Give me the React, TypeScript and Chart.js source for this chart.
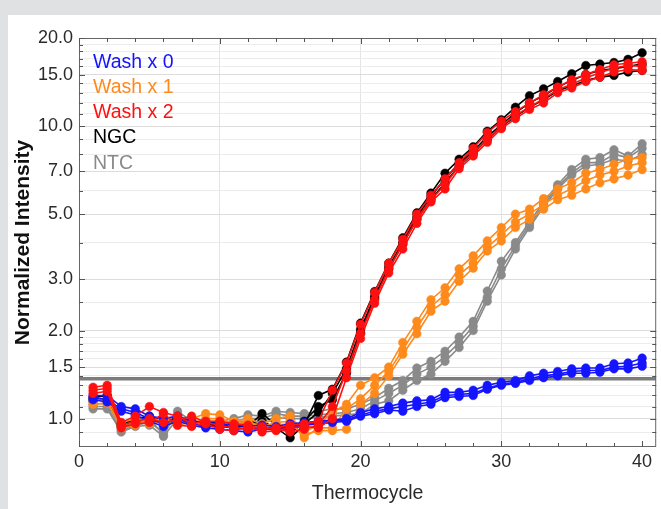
import React, { useEffect, useRef } from "react";
import { Chart, registerables } from "chart.js";
Chart.register(...registerables);

const CYCLES = [1, 2, 3, 4, 5, 6, 7, 8, 9, 10, 11, 12, 13, 14, 15, 16, 17, 18, 19, 20, 21, 22, 23, 24, 25, 26, 27, 28, 29, 30, 31, 32, 33, 34, 35, 36, 37, 38, 39, 40];
const THRESHOLD = 1.37;

const SERIES_NAMES = ["Wash x 0", "Wash x 1", "Wash x 2", "NGC", "NTC"];
const SERIES_COLORS = ["#1414ff", "#ff8a1c", "#ff1010", "#000000", "#8a8a8a"];

const WASH0_A = [1.20, 1.20, 1.10, 1.08, 1.02, 1.00, 1.02, 0.98, 0.97, 0.96, 0.95, 0.94, 0.95, 0.94, 0.96, 0.97, 0.98, 0.99, 1.00, 1.05, 1.08, 1.10, 1.13, 1.15, 1.16, 1.23, 1.23, 1.25, 1.30, 1.33, 1.35, 1.40, 1.43, 1.45, 1.48, 1.49, 1.49, 1.54, 1.55, 1.61];
const WASH0_B = [1.18, 1.16, 1.08, 1.05, 1.00, 0.96, 1.00, 0.96, 0.94, 0.94, 0.93, 0.92, 0.93, 0.93, 0.94, 0.96, 0.97, 0.98, 0.99, 1.03, 1.06, 1.08, 1.10, 1.12, 1.14, 1.20, 1.21, 1.22, 1.27, 1.31, 1.33, 1.37, 1.40, 1.42, 1.45, 1.46, 1.46, 1.50, 1.51, 1.55];
const WASH0_C = [1.16, 1.14, 1.06, 1.03, 0.98, 0.94, 0.98, 0.95, 0.93, 0.92, 0.91, 0.90, 0.92, 0.92, 0.93, 0.95, 0.96, 0.97, 0.98, 1.02, 1.04, 1.07, 1.06, 1.10, 1.12, 1.18, 1.19, 1.20, 1.26, 1.30, 1.32, 1.35, 1.38, 1.40, 1.43, 1.43, 1.44, 1.48, 1.48, 1.51];

const WASH1_A = [1.15, 1.17, 0.97, 1.00, 0.98, 1.00, 0.97, 1.00, 1.04, 1.03, 0.98, 1.00, 0.96, 1.00, 1.02, 0.90, 0.95, 1.05, 1.12, 1.30, 1.38, 1.50, 1.82, 2.15, 2.55, 2.80, 3.25, 3.60, 4.05, 4.50, 5.00, 5.20, 5.65, 6.10, 6.40, 6.90, 7.10, 7.40, 7.70, 7.80];
const WASH1_B = [1.12, 1.13, 0.95, 0.97, 0.96, 0.98, 0.95, 0.97, 1.00, 1.00, 0.96, 0.97, 0.94, 0.97, 0.98, 0.86, 0.93, 0.93, 1.08, 1.17, 1.30, 1.45, 1.72, 2.05, 2.42, 2.65, 3.10, 3.40, 3.85, 4.25, 4.70, 5.00, 5.40, 5.80, 6.10, 6.50, 6.80, 7.00, 7.30, 7.50];
const WASH1_C = [1.18, 1.15, 0.93, 0.95, 1.00, 0.96, 0.99, 0.95, 0.98, 0.98, 0.94, 0.99, 0.92, 0.95, 0.96, 0.88, 0.91, 0.91, 0.92, 1.12, 1.22, 1.40, 1.66, 1.95, 2.33, 2.52, 2.95, 3.27, 3.74, 4.05, 4.50, 4.80, 5.20, 5.60, 5.80, 6.10, 6.40, 6.60, 6.80, 7.10];

const WASH2_A = [1.28, 1.30, 0.97, 1.02, 1.10, 1.05, 1.02, 0.96, 0.98, 0.98, 0.96, 0.95, 0.92, 0.93, 0.95, 0.96, 0.98, 1.25, 1.55, 2.10, 2.70, 3.40, 4.10, 5.00, 5.80, 6.60, 7.50, 8.40, 9.50, 10.4, 11.2, 12.0, 12.8, 13.6, 14.4, 15.0, 15.6, 16.2, 16.4, 16.6];
const WASH2_B = [1.25, 1.27, 0.95, 0.98, 1.00, 0.97, 0.99, 1.02, 0.97, 0.95, 0.93, 0.92, 0.94, 0.92, 0.90, 0.92, 0.95, 1.10, 1.45, 1.95, 2.55, 3.25, 3.95, 4.80, 5.60, 6.30, 7.30, 8.10, 9.00, 10.0, 10.9, 11.6, 12.4, 13.3, 13.9, 14.6, 15.2, 15.8, 16.1, 16.0];
const WASH2_C = [1.22, 1.24, 0.93, 0.96, 0.97, 1.04, 0.95, 0.94, 0.96, 0.92, 0.91, 0.94, 0.90, 0.91, 0.93, 0.94, 0.93, 1.00, 1.38, 1.88, 2.48, 3.15, 3.80, 4.65, 5.50, 6.10, 7.15, 7.90, 8.80, 9.80, 10.6, 11.4, 12.0, 13.0, 13.5, 14.2, 14.7, 15.3, 15.6, 15.5];

const NGC_A = [1.18, 1.20, 0.95, 1.00, 1.02, 0.98, 1.00, 0.97, 0.96, 0.97, 0.95, 0.96, 0.98, 0.93, 0.86, 0.95, 1.20, 1.26, 1.56, 2.12, 2.72, 3.40, 4.15, 5.05, 5.90, 6.90, 7.70, 8.50, 9.60, 10.5, 11.6, 12.7, 13.4, 14.2, 15.1, 16.1, 16.3, 16.5, 16.9, 17.8];
const NGC_B = [1.15, 1.17, 0.94, 0.98, 1.00, 0.96, 0.98, 0.99, 0.95, 0.95, 0.97, 0.94, 1.04, 0.95, 0.90, 0.96, 1.05, 1.22, 1.48, 2.02, 2.62, 3.30, 4.00, 4.90, 5.75, 6.60, 7.45, 8.20, 9.20, 10.1, 11.1, 12.0, 12.7, 13.6, 14.3, 15.0, 15.5, 15.7, 16.0, 16.3];
const NGC_C = [1.17, 1.16, 0.96, 0.99, 0.98, 0.97, 1.01, 0.96, 0.97, 0.96, 0.93, 0.95, 0.96, 0.94, 0.93, 0.98, 1.10, 1.16, 1.43, 1.96, 2.58, 3.25, 3.95, 4.80, 5.60, 6.40, 7.30, 8.05, 9.00, 9.95, 10.8, 11.6, 12.3, 13.2, 13.7, 14.3, 14.7, 14.9, 15.3, 15.5];

const NTC_A = [1.12, 1.13, 0.93, 0.97, 1.00, 0.88, 1.06, 0.98, 0.96, 0.98, 1.00, 1.03, 1.02, 1.06, 1.05, 1.04, 1.06, 1.08, 1.08, 1.12, 1.18, 1.27, 1.35, 1.49, 1.57, 1.70, 1.90, 2.15, 2.73, 3.45, 4.00, 4.70, 5.50, 6.30, 7.10, 7.70, 7.80, 8.30, 7.90, 8.70];
const NTC_B = [1.10, 1.10, 0.91, 0.95, 0.97, 0.90, 1.03, 0.96, 0.98, 0.96, 0.98, 1.00, 1.00, 1.04, 1.02, 1.02, 1.03, 1.04, 1.05, 1.08, 1.15, 1.22, 1.30, 1.42, 1.50, 1.63, 1.82, 2.07, 2.60, 3.25, 3.90, 4.60, 5.40, 6.20, 6.90, 7.50, 7.50, 8.00, 7.80, 8.40];
const NTC_C = [1.08, 1.08, 0.90, 0.94, 0.95, 0.87, 1.00, 0.95, 0.95, 0.95, 0.97, 0.98, 0.98, 1.01, 1.00, 1.00, 1.01, 1.02, 1.03, 1.04, 1.12, 1.15, 1.25, 1.35, 1.42, 1.57, 1.75, 2.00, 2.52, 3.10, 3.80, 4.50, 5.30, 6.10, 6.80, 7.30, 7.40, 7.70, 7.60, 8.00];

const Y_MAJOR = [1.0, 1.5, 2.0, 3.0, 5.0, 7.0, 10.0, 15.0, 20.0];
const Y_MINOR = [0.9, 1.1, 1.2, 1.3, 1.4, 1.6, 1.7, 1.8, 1.9, 2.5, 4.0, 6.0, 8.0, 9.0, 11.0, 12.0, 13.0, 14.0, 16.0, 17.0, 18.0, 19.0];
const X_MAJOR = [0, 10, 20, 30, 40];
const X_MINOR = [2, 4, 6, 8, 12, 14, 16, 18, 22, 24, 26, 28, 32, 34, 36, 38];

const X_TITLE = "Thermocycle";
const Y_TITLE = "Normalized Intensity";

const FONT = "'Liberation Sans', Arial, Helvetica, sans-serif";

export default function App() {
  const ref = useRef<HTMLCanvasElement | null>(null);

  useEffect(() => {
    document.body.style.margin = "0";
    document.body.style.background = "#e0e1e3";
    const canvas = ref.current;
    if (!canvas) return;

    const groups = [
      { idx: 4, reps: [NTC_A, NTC_B, NTC_C], order: 6 },
      { idx: 3, reps: [NGC_A, NGC_B, NGC_C], order: 5 },
      { idx: 1, reps: [WASH1_A, WASH1_B, WASH1_C], order: 4 },
      { idx: 0, reps: [WASH0_A, WASH0_B, WASH0_C], order: 3 },
      { idx: 2, reps: [WASH2_A, WASH2_B, WASH2_C], order: 2 },
    ];

    const datasets: any[] = [
      {
        label: "threshold",
        data: [
          { x: 0, y: THRESHOLD },
          { x: 41, y: THRESHOLD },
        ],
        borderColor: "#7c7c7c",
        borderWidth: 3.5,
        pointRadius: 0,
        order: 10,
      },
    ];
    groups.forEach((g) => {
      g.reps.forEach((vals, r) => {
        const c = SERIES_COLORS[g.idx];
        datasets.push({
          label: SERIES_NAMES[g.idx] + " " + (r + 1),
          data: vals.map((v, i) => ({ x: CYCLES[i], y: v })),
          borderColor: c,
          backgroundColor: c,
          pointBackgroundColor: c,
          pointBorderColor: c,
          pointRadius: 4.3,
          pointBorderWidth: 0.5,
          borderWidth: 1.6,
          order: g.order,
        });
      });
    });

    const framePlugin = {
      id: "frame",
      afterDatasetsDraw(chart: any) {
        const { ctx, chartArea: a, scales } = chart;
        const xs = scales.x;
        const ys = scales.y;
        ctx.save();
        ctx.strokeStyle = "#666666";
        ctx.lineWidth = 1;
        ctx.strokeRect(a.left + 0.5, a.top + 0.5, a.right - a.left - 1, a.bottom - a.top - 1);
        ctx.strokeStyle = "#555555";
        const allX = [...X_MAJOR, ...X_MINOR];
        allX.forEach((v) => {
          const px = Math.round(xs.getPixelForValue(v)) + 0.5;
          const len = X_MAJOR.includes(v) ? 6 : 4;
          ctx.beginPath();
          ctx.moveTo(px, a.bottom);
          ctx.lineTo(px, a.bottom - len);
          ctx.moveTo(px, a.top);
          ctx.lineTo(px, a.top + len);
          ctx.stroke();
        });
        const allY = [...Y_MAJOR, ...Y_MINOR];
        allY.forEach((v) => {
          const py = Math.round(ys.getPixelForValue(v)) + 0.5;
          const len = Y_MAJOR.includes(v) ? 6 : 4;
          ctx.beginPath();
          ctx.moveTo(a.left, py);
          ctx.lineTo(a.left + len, py);
          ctx.moveTo(a.right, py);
          ctx.lineTo(a.right - len, py);
          ctx.stroke();
        });
        ctx.restore();
      },
      afterDraw(chart: any) {
        const { ctx, chartArea: a } = chart;
        ctx.save();
        ctx.font = "19.5px " + FONT;
        ctx.textBaseline = "middle";
        ctx.textAlign = "left";
        SERIES_NAMES.forEach((name, i) => {
          ctx.fillStyle = SERIES_COLORS[i];
          ctx.fillText(name, a.left + 14, a.top + 24.5 + i * 25.2);
        });
        ctx.restore();
      },
    };

    const chart = new Chart(canvas, {
      type: "line",
      data: { datasets },
      plugins: [framePlugin],
      options: {
        animation: false,
        responsive: false,
        maintainAspectRatio: false,
        layout: { padding: { top: 23, right: 3, left: 0, bottom: 0 } },
        plugins: { legend: { display: false }, tooltip: { enabled: false } },
        scales: {
          x: {
            type: "linear",
            min: 0,
            max: 41,
            afterBuildTicks: (s: any) => {
              s.ticks = X_MAJOR.map((v) => ({ value: v }));
            },
            afterFit: (s: any) => {
              s.height = 62;
            },
            ticks: {
              color: "#2a2a2a",
              font: { size: 18, family: FONT },
              padding: 4,
              maxRotation: 0,
              callback: (v: any) => String(v),
            },
            grid: {
              drawTicks: false,
              color: (c: any) => (c.tick && c.tick.value > 0 && c.tick.value < 40 ? "#e4e4e4" : "rgba(0,0,0,0)"),
            },
            border: { display: false },
            title: {
              display: true,
              text: X_TITLE,
              color: "#2a2a2a",
              font: { size: 19.5, family: FONT },
              padding: { top: 0, bottom: 4 },
            },
          },
          y: {
            type: "logarithmic",
            min: 0.8,
            max: 20,
            afterBuildTicks: (s: any) => {
              s.ticks = [...Y_MAJOR, ...Y_MINOR].sort((p, q) => p - q).map((v) => ({ value: v, major: Y_MAJOR.includes(v) }));
            },
            afterFit: (s: any) => {
              s.width = 71;
            },
            ticks: {
              color: "#2a2a2a",
              font: { size: 18, family: FONT },
              padding: 6,
              autoSkip: false,
              callback: (v: any) => (Y_MAJOR.includes(Number(v)) ? Number(v).toFixed(1) : ""),
            },
            grid: {
              drawTicks: false,
              color: (c: any) => (c.tick && Y_MAJOR.includes(c.tick.value) ? "#dcdcdc" : "#ececec"),
            },
            border: { display: false },
            title: {
              display: true,
              text: Y_TITLE,
              color: "#111111",
              font: { size: 21, family: FONT, weight: "bold" },
              padding: { top: 3, bottom: 0 },
            },
          },
        },
      },
    });
    return () => chart.destroy();
  }, []);

  return (
    <div style={{ position: "absolute", left: 8, top: 15, width: 653, height: 494, background: "#ffffff" }}>
      <canvas ref={ref} width={653} height={494} style={{ display: "block", width: 653, height: 494 }} />
    </div>
  );
}
